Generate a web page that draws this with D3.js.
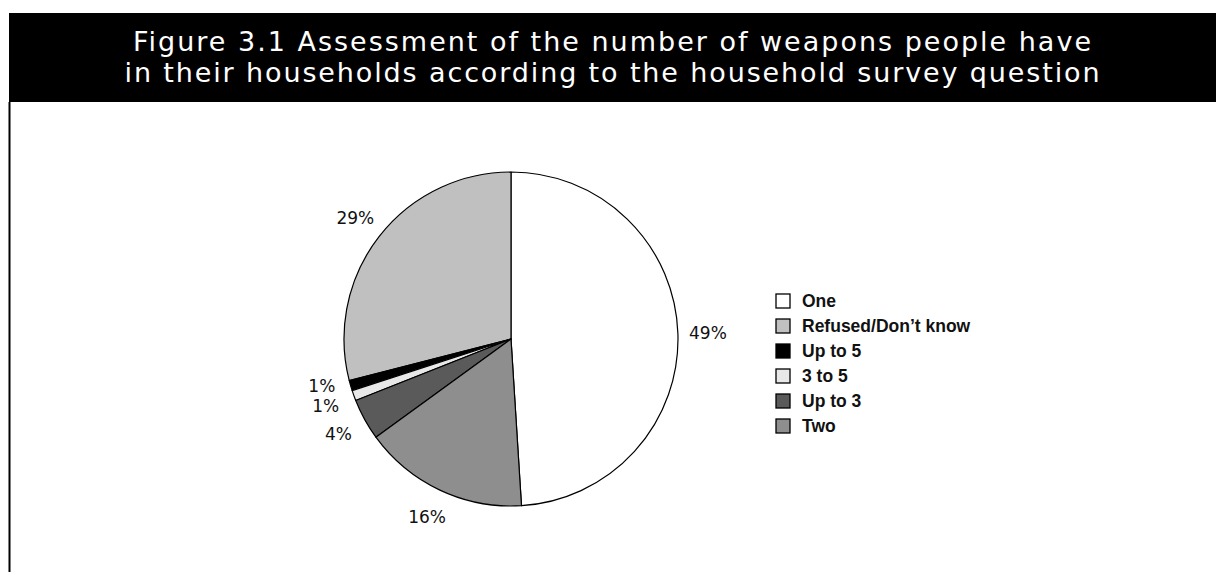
<!DOCTYPE html>
<html>
<head>
<meta charset="utf-8">
<script src="https://cdn.jsdelivr.net/npm/d3@7/dist/d3.min.js"></script>
<style>
  html, body { margin: 0; padding: 0; background: #fff; }
  svg { display: block; }
</style>
</head>
<body>
<svg id="chart" width="1216" height="572"></svg>
<script>
// ---- data ----
const titleLines = [
  "Figure 3.1 Assessment of the number of weapons people have",
  "in their households according to the household survey question"
];
const categories = ["One", "Refused/Don\u2019t know", "Up to 5", "3 to 5", "Up to 3", "Two"];
const values = [49, 29, 1, 1, 4, 16];
const labels = ["49%", "29%", "1%", "1%", "4%", "16%"];
const colors = ["#ffffff", "#c0c0c0", "#000000", "#e8e8e8", "#5a5a5a", "#8e8e8e"];

// ---- layout ----
const W = 1216, H = 572;
const svg = d3.select("#chart");

// title band
svg.append("rect").attr("x", 9).attr("y", 13).attr("width", W - 9).attr("height", 89).attr("fill", "#000");
// left frame line
svg.append("line").attr("x1", 9.5).attr("x2", 9.5).attr("y1", 102).attr("y2", H)
  .attr("stroke", "#000").attr("stroke-width", 2);

const titleCX = 613;
const targetWidths = [960, 977];
const baselines = [51, 82];
titleLines.forEach((t, i) => {
  const tx = svg.append("text")
    .attr("x", titleCX).attr("y", baselines[i])
    .attr("text-anchor", "middle")
    .attr("fill", "#fff")
    .style("font-family", "'DejaVu Sans', Verdana, sans-serif")
    .style("font-size", "27px")
    .text(t);
  const natural = tx.node().getComputedTextLength();
  const ls = (targetWidths[i] - natural) / t.length;
  tx.style("letter-spacing", ls + "px");
});

// pie
const cx = 511, cy = 339, r = 167, labelR = 197;
const total = d3.sum(values);
const a0 = 2 * Math.PI * values[0] / total;
const pie = d3.pie().sort(null).value(d => d).startAngle(a0).endAngle(a0 - 2 * Math.PI);
const arcs = pie(values);
const arc = d3.arc().innerRadius(0).outerRadius(r);
const labelArc = d3.arc().innerRadius(labelR).outerRadius(labelR);

const g = svg.append("g").attr("transform", `translate(${cx},${cy})`);
g.selectAll("path.slice").data(arcs).join("path")
  .attr("class", "slice")
  .attr("d", arc)
  .attr("fill", (d, i) => colors[i])
  .attr("stroke", "#000")
  .attr("stroke-width", 1.2)
  .attr("stroke-linejoin", "round");

// label positions with simple overlap avoidance (push the upper label up)
const pos = arcs.map((d, i) => {
  const c = labelArc.centroid(d);
  return { x: c[0], y: c[1], i };
});
const minGap = 20;
for (let k = 0; k < 5; k++) {
  for (let a = 0; a < pos.length; a++) {
    for (let b = 0; b < pos.length; b++) {
      if (a === b) continue;
      const p = pos[a], q = pos[b];
      if (Math.abs(p.x - q.x) < 30 && Math.abs(p.y - q.y) < minGap && p.y <= q.y) {
        p.y = q.y - minGap;
      }
    }
  }
}
g.selectAll("text.lbl").data(pos).join("text")
  .attr("class", "lbl")
  .attr("x", d => d.x)
  .attr("y", d => d.y)
  .attr("dy", "0.36em")
  .attr("text-anchor", "middle")
  .attr("fill", "#111")
  .style("font-family", "'DejaVu Sans', Verdana, sans-serif")
  .style("font-size", "17px")
  .text(d => labels[d.i]);

// legend
const legendX = 776, legendY0 = 301, legendStep = 25, box = 14;
const lg = svg.append("g");
categories.forEach((c, i) => {
  const y = legendY0 + i * legendStep;
  lg.append("rect")
    .attr("x", legendX).attr("y", y - box / 2)
    .attr("width", box).attr("height", box)
    .attr("fill", colors[i]).attr("stroke", "#000").attr("stroke-width", 1.3);
  lg.append("text")
    .attr("x", legendX + 26).attr("y", y).attr("dy", "0.36em")
    .attr("fill", "#111")
    .style("font-family", "'Liberation Sans', Arial, sans-serif")
    .style("font-size", "17.5px")
    .style("font-weight", "bold")
    .text(c);
});
</script>
</body>
</html>
